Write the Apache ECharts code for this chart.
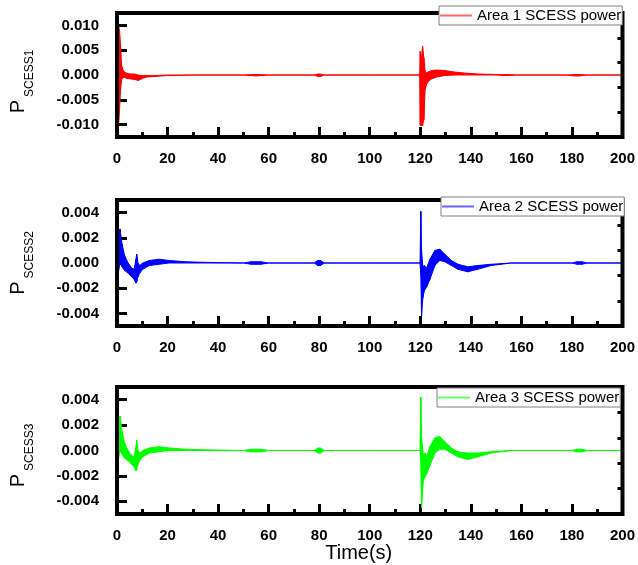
<!DOCTYPE html>
<html><head><meta charset="utf-8">
<script src="https://cdn.jsdelivr.net/npm/echarts@6/dist/echarts.min.js"></script>
<style>html,body{margin:0;padding:0;background:#fff}#c{width:638px;height:565px}</style>
</head><body><div id="c"></div>
<script>
// ---- Panel 1 (Area 1, red): envelope of the oscillating power signal ----
const t1 = [0, 0.2, 0.6, 1.0, 1.4, 1.8, 2.4, 3, 4, 5.5, 7, 8.3, 9.3, 10.5, 12, 15, 20, 25, 30, 50, 53, 55, 57, 60, 78, 79.5, 80.5, 82, 100, 119.8, 120.0, 120.4, 120.9, 121.4, 121.9, 122.5, 123.5, 124.5, 126.4, 129.7, 133.6, 137.5, 142.7, 150, 153, 155, 158, 178, 181, 183, 186, 200];
const u1 = [0, 0.0095, 0.0100, 0.0090, 0.0060, 0.0020, 0.0010, 0.0006, 0.0003, 0.0002, 0.0002, 0.0000, -0.0001, -0.0001, -0.0001, -0.0001, 0, 0, 0, 0, 0.0001, 0.0001, 0.0001, 0, 0, 0.0002, 0.0002, 0, 0, 0, 0.0048, 0.0030, 0.0058, 0.0035, 0.0008, 0.0004, 0.0007, 0.0009, 0.0010, 0.0009, 0.0006, 0.0004, 0.0002, 0.0001, 0.0001, 0.0001, 0, 0, 0.0001, 0.0001, 0, 0];
const l1 = [0, -0.0103, -0.0103, -0.0070, -0.0030, -0.0010, -0.0005, -0.0005, -0.0007, -0.0008, -0.0009, -0.0011, -0.0009, -0.0006, -0.0004, -0.0003, -0.0001, -0.0001, 0, 0, -0.0001, -0.0002, -0.0001, 0, 0, -0.0003, -0.0003, 0, 0, 0, -0.0102, -0.0102, -0.0102, -0.0090, -0.0030, -0.0018, -0.0011, -0.0008, -0.0004, -0.0001, 0, 0, 0, 0, -0.0001, -0.0001, 0, 0, -0.0002, -0.0002, 0, 0];

// ---- Panel 2 (Area 2, blue) ----
const t2 = [0, 0.2, 0.5, 1.2, 2, 3, 4.4, 5.8, 6.8, 7.5, 7.8, 8.3, 9, 10.2, 12.8, 16.7, 20.6, 27, 35, 50, 53, 55, 57, 60, 78, 79.5, 80.5, 82, 100, 119.9, 120.2, 120.5, 121.0, 121.6, 122.5, 123.8, 125.8, 127.7, 129.7, 132.3, 134.9, 138.8, 142.7, 148, 156, 165, 180, 182, 184, 186, 200];
const u2 = [0, 0.0005, 0.0015, 0.0027, 0.0015, 0.0006, 0.0000, -0.0004, -0.0005, 0.0003, 0.0007, 0.0000, -0.0002, 0.0000, 0.0002, 0.0003, 0.0002, 0.0001, 0.00005, 0, 0.0001, 0.0001, 0.0001, 0, 0, 0.0002, 0.0002, 0, 0, 0, 0.0041, 0.0010, -0.0003, -0.0002, -0.0004, 0.0003, 0.0010, 0.0011, 0.0007, 0.0002, -0.0001, -0.0003, -0.0002, -0.0001, 0, 0, 0, 0.0001, 0.0001, 0, 0];
const l2 = [0, -0.0024, -0.0008, 0.0000, -0.0003, -0.0006, -0.0008, -0.0011, -0.0013, -0.0016, -0.0015, -0.0011, -0.0008, -0.0005, -0.0002, -0.0001, 0, 0, 0, 0, -0.0001, -0.0001, -0.0001, 0, 0, -0.0002, -0.0002, 0, 0, 0, -0.0010, -0.0042, -0.0028, -0.0022, -0.0019, -0.0013, -0.0002, 0.0002, 0.0001, -0.0002, -0.0005, -0.0007, -0.0005, -0.0002, 0, 0, 0, -0.0001, -0.0001, 0, 0];

// ---- Panel 3 (Area 3, green) ----
const t3 = [0, 0.2, 0.5, 1.2, 2, 3, 4.4, 5.8, 6.8, 7.5, 7.8, 8.3, 9, 10.2, 12.8, 16.7, 20.6, 27, 35, 50, 53, 55, 57, 60, 78, 79.5, 80.5, 82, 100, 119.9, 120.2, 120.5, 121.2, 121.8, 122.6, 123.8, 125.8, 127.7, 129.7, 132.3, 134.9, 138.8, 142.7, 148, 156, 165, 180, 182, 184, 186, 200];
const u3 = [0, 0.0005, 0.0015, 0.0027, 0.0015, 0.0006, 0.0000, -0.0004, -0.0005, 0.0003, 0.0008, 0.0000, -0.0002, 0.0000, 0.0002, 0.0003, 0.0002, 0.0001, 0.00005, 0, 0.0001, 0.0001, 0.0001, 0, 0, 0.0002, 0.0002, 0, 0, 0, 0.0042, 0.0010, -0.0003, -0.0002, -0.0004, 0.0003, 0.0010, 0.0011, 0.0007, 0.0002, -0.0001, -0.0002, -0.0002, -0.0001, 0, 0, 0, 0.0001, 0.0001, 0, 0];
const l3 = [0, -0.0023, -0.0008, 0.0000, -0.0003, -0.0006, -0.0008, -0.0011, -0.0013, -0.0016, -0.0015, -0.0011, -0.0008, -0.0005, -0.0002, -0.0001, 0, 0, 0, 0, -0.0001, -0.0001, -0.0001, 0, 0, -0.0002, -0.0002, 0, 0, 0, -0.0010, -0.0045, -0.0024, -0.0021, -0.0018, -0.0012, -0.0002, 0.0001, 0.0001, -0.0002, -0.0005, -0.0007, -0.0005, -0.0002, 0, 0, 0, -0.0001, -0.0001, 0, 0];

// ---- Axes / labels ----
const xMin = 0, xMax = 200, xStep = 20;
const yRange1 = [-0.0125, 0.0125];
const yLabels1 = [-0.010, -0.005, 0, 0.005, 0.010];
const yMinor1 = [-0.0075, -0.0025, 0.0025, 0.0075];
const yRange23 = [-0.005, 0.005];
const yLabels23 = [-0.004, -0.002, 0, 0.002, 0.004];
const yMinor23 = [-0.003, -0.001, 0.001, 0.003];
const seriesNames = ['Area 1 SCESS power', 'Area 2 SCESS power', 'Area 3 SCESS power'];
const yNameSubs = ['SCESS1', 'SCESS2', 'SCESS3'];
const xName = 'Time(s)';
const colors = ['#ff0000', '#0000ff', '#00ff00'];

const panels = [
  {t: t1, u: u1, l: l1, range: yRange1, labels: yLabels1, minor: yMinor1},
  {t: t2, u: u2, l: l2, range: yRange23, labels: yLabels23, minor: yMinor23},
  {t: t3, u: u3, l: l3, range: yRange23, labels: yLabels23, minor: yMinor23}
];
const gridPos = [{top: 13, height: 124}, {top: 200, height: 126}, {top: 387, height: 127}];
const legendPos = [{left: 439, top: 6}, {left: 441, top: 197}, {left: 437, top: 388}];
const nameShift = [13, 0, 10];
const FF = '"Liberation Sans", Arial, sans-serif';

const grid = [], xAxis = [], yAxis = [], series = [], legend = [];
panels.forEach((p, i) => {
  grid.push({left: 112, right: 15, top: gridPos[i].top, height: gridPos[i].height,
    show: true, borderColor: '#000', borderWidth: 4, backgroundColor: 'transparent', z: 3});
  xAxis.push({
    type: 'value', gridIndex: i, min: xMin, max: xMax, interval: xStep,
    axisLine: {show: false, onZero: false},
    axisTick: {show: true, inside: true, length: 10, lineStyle: {color: '#000', width: 3}},
    minorTick: {show: true, splitNumber: 2, length: 5, lineStyle: {color: '#000', width: 3}},
    splitLine: {show: false}, minorSplitLine: {show: false},
    axisLabel: {margin: 14, color: '#000', fontSize: 15, fontWeight: 'bold', fontFamily: FF},
    name: i === 2 ? xName : '', nameLocation: 'middle', nameGap: 26,
    nameTextStyle: {fontSize: 20, color: '#000', fontFamily: FF, padding: [0, 22, 0, 0]}
  });
  yAxis.push({
    type: 'value', gridIndex: i, min: p.range[0], max: p.range[1],
    axisLine: {show: false, onZero: false}, splitLine: {show: false},
    axisTick: {show: true, inside: true, length: 10, customValues: p.labels, lineStyle: {color: '#000', width: 3}},
    axisLabel: {customValues: p.labels, margin: 18, color: '#000', fontSize: 15, fontWeight: 'bold', fontFamily: FF,
      formatter: v => (Math.abs(v) < 1e-9 ? 0 : v).toFixed(3)},
    name: '{p|P}{s|' + yNameSubs[i] + '}', nameLocation: 'middle', nameRotate: 90, nameGap: 81,
    nameTextStyle: {rich: {
      p: {fontSize: 20, color: '#000', fontFamily: FF, verticalAlign: 'bottom', padding: [0, 0, 8, 0]},
      s: {fontSize: 12, color: '#000', fontFamily: FF, verticalAlign: 'bottom', padding: [0, nameShift[i], 0, 3]}
    }}
  });
  yAxis.push({
    type: 'value', gridIndex: i, min: p.range[0], max: p.range[1],
    axisLine: {show: false, onZero: false}, splitLine: {show: false},
    axisTick: {show: true, inside: true, length: 5, customValues: p.minor, lineStyle: {color: '#000', width: 3}},
    axisLabel: {show: false}
  });
  const c = colors[i];
  // band segments between consecutive envelope samples
  const seg = [];
  for (let k = 0; k < p.t.length - 1; k++) {
    seg.push([p.t[k], p.u[k], p.l[k], p.t[k + 1], p.u[k + 1], p.l[k + 1]]);
  }
  series.push({
    name: seriesNames[i], type: 'custom', xAxisIndex: i, yAxisIndex: 2 * i,
    itemStyle: {color: c, borderColor: c},
    encode: {x: [0, 3], y: [1, 2, 4, 5]},
    data: seg,
    renderItem: (params, api) => {
      const a0 = api.value(0), b0 = api.value(3);
      const pts = [
        api.coord([a0, api.value(1)]), api.coord([b0, api.value(4)]),
        api.coord([b0, api.value(5)]), api.coord([a0, api.value(2)])
      ];
      return {type: 'polygon', shape: {points: pts},
        style: {fill: c, stroke: c, lineWidth: 1}};
    }
  });
  legend.push({
    data: [{name: seriesNames[i], itemStyle: {color: c, borderColor: c, borderWidth: 0}}],
    left: legendPos[i].left, top: legendPos[i].top,
    padding: [2, 1, 2, 1], itemWidth: 32, itemHeight: 2, itemGap: 5, icon: 'rect',
    itemStyle: {color: c, borderColor: c, borderWidth: 0, opacity: 0.6},
    backgroundColor: '#fff', borderColor: '#808080', borderWidth: 1, borderRadius: 0,
    textStyle: {fontSize: 15, color: '#000', fontFamily: FF, lineHeight: 15},
    selectedMode: false, z: 10
  });
});

const chart = echarts.init(document.getElementById('c'), null, {renderer: 'canvas'});
chart.setOption({
  backgroundColor: '#fff', animation: false,
  grid, xAxis, yAxis, series, legend
});
</script>
</body></html>
